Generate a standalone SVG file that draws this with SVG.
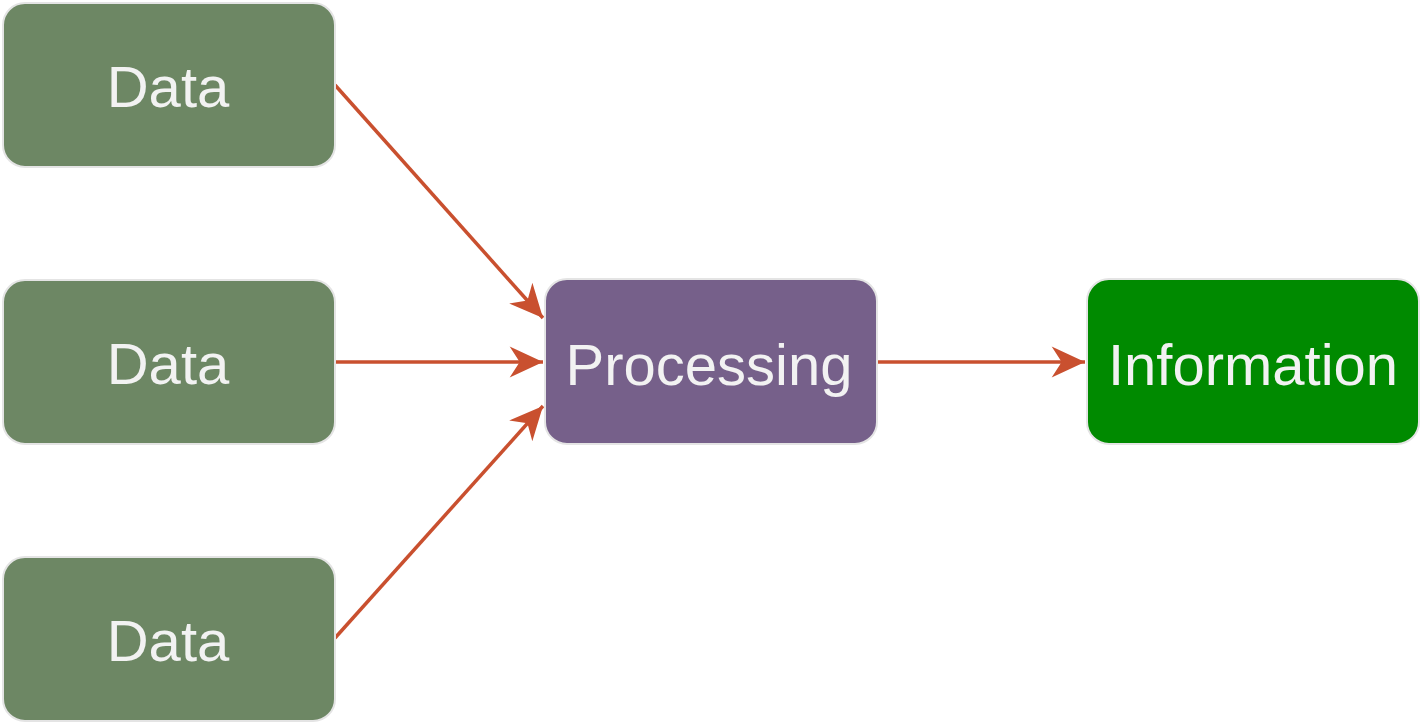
<svg xmlns="http://www.w3.org/2000/svg" width="1422" height="724" viewBox="0 0 1422 724">
<style>
.box{stroke:#e4e4e4;stroke-width:2}
.data{fill:#6d8764}
.proc{fill:#76608a}
.info{fill:#008a00}
.lbl{font-family:"Liberation Sans",Arial,sans-serif;font-size:58px;fill:#f2f2f2;text-anchor:middle}
.edge{stroke:#c9502f;stroke-width:3.5;fill:none}
</style>
<defs>
<marker id="arr" markerUnits="userSpaceOnUse" markerWidth="40" markerHeight="40" viewBox="-32 -16 36 32" refX="0" refY="0" orient="auto">
<path d="M0,0 L-30,-14 L-21,0 L-30,14 Z" fill="#c9502f"/>
</marker>
</defs>
<rect width="1422" height="724" fill="#ffffff"/>
<g id="edges">
<path class="edge" d="M335,85 L543,318" marker-end="url(#arr)"/>
<path class="edge" d="M335,362 L543,362" marker-end="url(#arr)"/>
<path class="edge" d="M335,638 L543,406" marker-end="url(#arr)"/>
<path class="edge" d="M877,362 L1085,362" marker-end="url(#arr)"/>
</g>
<g id="data1">
<rect class="box data" x="3" y="3" width="332" height="164" rx="22"/>
<text class="lbl" x="168" y="107">Data</text>
</g>
<g id="data2">
<rect class="box data" x="3" y="280" width="332" height="164" rx="22"/>
<text class="lbl" x="168" y="384">Data</text>
</g>
<g id="data3">
<rect class="box data" x="3" y="557" width="332" height="164" rx="22"/>
<text class="lbl" x="168" y="661">Data</text>
</g>
<g id="processing">
<rect class="box proc" x="545" y="279" width="332" height="165" rx="22"/>
<text class="lbl" x="709" y="385">Processing</text>
</g>
<g id="information">
<rect class="box info" x="1087" y="279" width="332" height="165" rx="22"/>
<text class="lbl" x="1253" y="385">Information</text>
</g>
</svg>
